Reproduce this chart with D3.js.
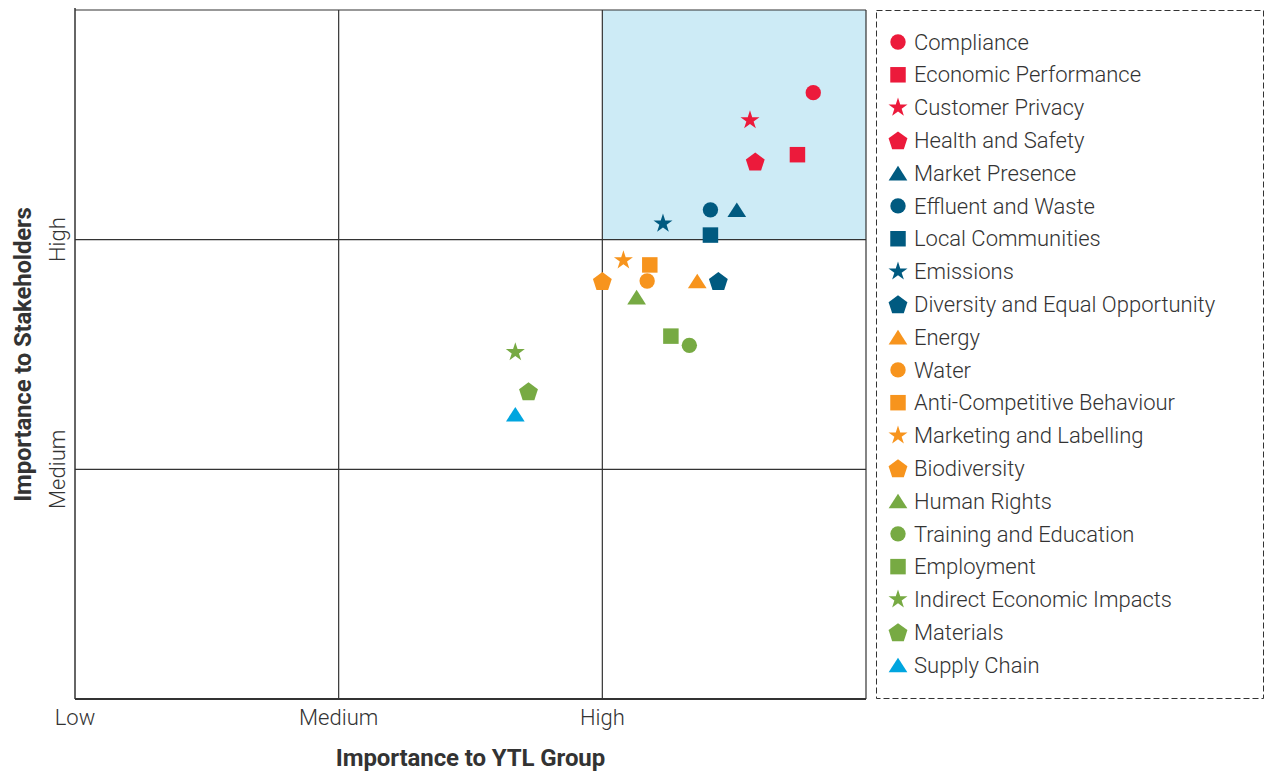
<!DOCTYPE html>
<html>
<head>
<meta charset="utf-8">
<script src="https://cdn.jsdelivr.net/npm/d3@7"></script>
<style>
  body { margin: 0; background: #fff; }
  svg { display: block; font-family: Roboto, "Noto Sans", sans-serif; }
</style>
</head>
<body>
<div id="chart"></div>
<script>
// ##########################################
// Data: materiality matrix (0 = Low, 1 = Medium, 2 = High)
//
var topics = [
  "Compliance", "Economic Performance", "Customer Privacy", "Health and Safety",
  "Market Presence", "Effluent and Waste", "Local Communities", "Emissions",
  "Diversity and Equal Opportunity", "Energy", "Water", "Anti-Competitive Behaviour",
  "Marketing and Labelling", "Biodiversity", "Human Rights", "Training and Education",
  "Employment", "Indirect Economic Impacts", "Materials", "Supply Chain"
];
var importanceYTL = [
  2.80, 2.74, 2.56, 2.58,
  2.51, 2.41, 2.41, 2.23,
  2.44, 2.36, 2.17, 2.18,
  2.08, 2.00, 2.13, 2.33,
  2.26, 1.67, 1.72, 1.67
];
var importanceStakeholders = [
  2.64, 2.37, 2.52, 2.34,
  2.13, 2.13, 2.02, 2.07,
  1.82, 1.82, 1.82, 1.89,
  1.91, 1.82, 1.75, 1.54,
  1.58, 1.51, 1.34, 1.24
];
var levelLabels = ["Low", "Medium", "High"];
var levelValues = [0, 1, 2];

// marker styling, one entry per topic
var markColours = [
  "#ec1a3b", "#ec1a3b", "#ec1a3b", "#ec1a3b",
  "#005a80", "#005a80", "#005a80", "#005a80", "#005a80",
  "#f7941d", "#f7941d", "#f7941d", "#f7941d", "#f7941d",
  "#77aa43", "#77aa43", "#77aa43", "#77aa43", "#77aa43",
  "#00a5df"
];
var markShapes = [
  "circle", "square", "star", "pentagon",
  "triangle", "circle", "square", "star", "pentagon",
  "triangle", "circle", "square", "star", "pentagon",
  "triangle", "circle", "square", "star", "pentagon",
  "triangle"
];

// ##########################################
// Custom symbol types
//
var symbolPentagon = {
  draw: function (context, size) {
    var r = Math.sqrt(size);
    for (var i = 0; i < 5; i++) {
      var a = -Math.PI / 2 + i * 2 * Math.PI / 5;
      var px = r * Math.cos(a), py = r * Math.sin(a) + r * 0.095;
      if (i == 0) context.moveTo(px, py); else context.lineTo(px, py);
    }
    context.closePath();
  }
};
var symbolFlatTriangle = {
  draw: function (context, size) {
    var w = Math.sqrt(size), h = w * 0.78;
    context.moveTo(0, -h / 2);
    context.lineTo(w / 2, h / 2);
    context.lineTo(-w / 2, h / 2);
    context.closePath();
  }
};
var symbolTypes = {
  circle:   { type: d3.symbolCircle, size: 185 },
  square:   { type: d3.symbolSquare, size: 240 },
  star:     { type: d3.symbolStar, size: 112 },
  pentagon: { type: symbolPentagon, size: 98 },
  triangle: { type: symbolFlatTriangle, size: 350 }
};
function symbolPath(shape) {
  var s = symbolTypes[shape];
  return d3.symbol().type(s.type).size(s.size)();
}

// ##########################################
// Plot
//
var W = 1265, H = 775;
var margin = {top: 10, right: 399, bottom: 76, left: 75},
    width = W - margin.left - margin.right,
    height = H - margin.top - margin.bottom;
var ink = "#333333";

var svg = d3.select("#chart").append("svg")
    .attr("width", W)
    .attr("height", H);

var g = svg.append("g")
    .attr("transform", "translate(" + margin.left + "," + margin.top + ")");

var x = d3.scaleLinear().domain([0, 3]).range([0, width]);
var y = d3.scaleLinear().domain([0, 3]).range([height, 0]);

// high / high quadrant
g.append("rect")
    .attr("x", x(2))
    .attr("y", y(3))
    .attr("width", x(3) - x(2))
    .attr("height", y(2) - y(3))
    .style("fill", "#cdebf6");

// grid lines
g.selectAll(".vline")
    .data([1, 2, 3])
    .enter().append("line")
      .attr("x1", function (d) { return x(d); })
      .attr("x2", function (d) { return x(d); })
      .attr("y1", y(3))
      .attr("y2", y(0))
      .style("stroke", ink)
      .style("stroke-width", 1.2);

g.selectAll(".hline")
    .data([1, 2, 3])
    .enter().append("line")
      .attr("x1", x(0))
      .attr("x2", x(3))
      .attr("y1", function (d) { return y(d); })
      .attr("y2", function (d) { return y(d); })
      .style("stroke", ink)
      .style("stroke-width", 1.2);

// axes lines
g.append("line")
    .attr("x1", x(0)).attr("x2", x(0))
    .attr("y1", y(3) - 2).attr("y2", y(0))
    .style("stroke", ink).style("stroke-width", 1.5);
g.append("line")
    .attr("x1", x(0)).attr("x2", x(3))
    .attr("y1", y(0)).attr("y2", y(0))
    .style("stroke", ink).style("stroke-width", 2);

// tick labels
g.selectAll(".xlab")
    .data(levelValues)
    .enter().append("text")
      .attr("x", function (d) { return x(d); })
      .attr("y", height + 26)
      .attr("text-anchor", "middle")
      .style("font-size", "22px")
      .style("font-weight", 300)
      .style("fill", ink)
      .text(function (d, i) { return levelLabels[i]; });

g.selectAll(".ylab")
    .data(levelValues.slice(1))
    .enter().append("text")
      .attr("transform", function (d) { return "translate(-10," + y(d) + ") rotate(-90)"; })
      .attr("text-anchor", "middle")
      .style("font-size", "22px")
      .style("font-weight", 300)
      .style("fill", ink)
      .text(function (d) { return levelLabels[d]; });

// axis titles
g.append("text")
    .attr("x", width / 2)
    .attr("y", height + 67)
    .attr("text-anchor", "middle")
    .style("font-size", "24px")
    .style("font-weight", 700)
    .style("letter-spacing", "-0.1px")
    .style("fill", ink)
    .text("Importance to YTL Group");

g.append("text")
    .attr("transform", "translate(-44," + (height / 2) + ") rotate(-90)")
    .attr("text-anchor", "middle")
    .style("font-size", "24px")
    .style("font-weight", 700)
    .style("letter-spacing", "-0.2px")
    .style("fill", ink)
    .text("Importance to Stakeholders");

// markers
g.selectAll(".point")
    .data(topics)
    .enter().append("path")
      .attr("class", "point")
      .attr("d", function (d, i) { return symbolPath(markShapes[i]); })
      .attr("transform", function (d, i) {
        return "translate(" + x(importanceYTL[i]) + "," + y(importanceStakeholders[i]) + ")";
      })
      .style("fill", function (d, i) { return markColours[i]; });

// ##########################################
// Legend
//
var legend = svg.append("g");

legend.append("rect")
    .attr("x", 876.5)
    .attr("y", 10.5)
    .attr("width", 387)
    .attr("height", 688)
    .style("fill", "none")
    .style("stroke", ink)
    .style("stroke-width", 1)
    .style("stroke-dasharray", "6,3");

var ly = d3.scalePoint().domain(topics).range([42, 665]);

var items = legend.selectAll(".item")
    .data(topics)
    .enter().append("g")
      .attr("transform", function (d) { return "translate(898," + ly(d) + ")"; });

items.append("path")
    .attr("d", function (d, i) { return symbolPath(markShapes[i]); })
    .style("fill", function (d, i) { return markColours[i]; });

items.append("text")
    .attr("x", 16)
    .attr("dy", "0.35em")
    .style("font-size", "22px")
    .style("font-weight", 300)
    .style("fill", ink)
    .text(function (d) { return d; });
</script>
</body>
</html>
